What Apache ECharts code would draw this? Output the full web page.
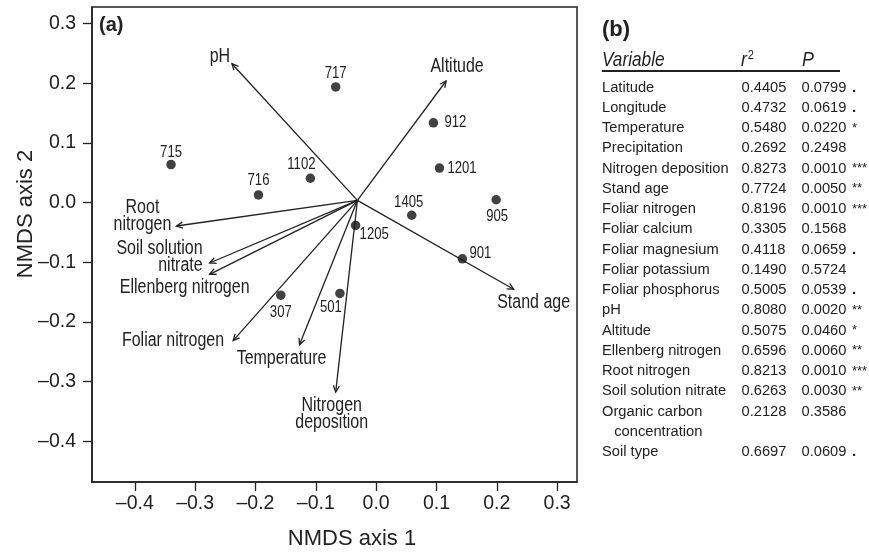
<!DOCTYPE html>
<html><head><meta charset="utf-8">
<script src="https://cdn.jsdelivr.net/npm/echarts@6/dist/echarts.min.js"></script>
<style>html,body{margin:0;padding:0;background:#fff}#c{width:869px;height:553px}</style>
</head><body><div id="c"></div>
<script>
// ---- data ----
const siteNames = ['717','912','1201','715','1102','716','905','1405','1205','901','307','501'];
const siteX = [-0.067,0.095,0.105,-0.340,-0.109,-0.195,0.199,0.059,-0.034,0.143,-0.158,-0.060];
const siteY = [0.194,0.134,0.058,0.064,0.041,0.013,0.005,-0.021,-0.038,-0.094,-0.155,-0.152];
const vectorNames = ['pH','Altitude','Root\nnitrogen','Soil solution\nnitrate','Ellenberg nitrogen','Foliar nitrogen','Temperature','Nitrogen\ndeposition','Stand age'];
const vectorX = [-0.239,0.116,-0.331,-0.276,-0.276,-0.237,-0.127,-0.067,0.228];
const vectorY = [0.233,0.204,-0.039,-0.101,-0.120,-0.231,-0.238,-0.317,-0.145];
const vectorOrigin = [-0.031, 0.004];
const axisTicks = [-0.4,-0.3,-0.2,-0.1,0,0.1,0.2,0.3];
const tableVars = ['Latitude','Longitude','Temperature','Precipitation','Nitrogen deposition','Stand age','Foliar nitrogen','Foliar calcium','Foliar magnesium','Foliar potassium','Foliar phosphorus','pH','Altitude','Ellenberg nitrogen','Root nitrogen','Soil solution nitrate','Organic carbon\n   concentration','Soil type'];
const tableR2 = ['0.4405','0.4732','0.5480','0.2692','0.8273','0.7724','0.8196','0.3305','0.4118','0.1490','0.5005','0.8080','0.5075','0.6596','0.8213','0.6263','0.2128','0.6697'];
const tableP = ['0.0799','0.0619','0.0220','0.2498','0.0010','0.0050','0.0010','0.1568','0.0659','0.5724','0.0539','0.0020','0.0460','0.0060','0.0010','0.0030','0.3586','0.0609'];
const tableSig = ['.','.','*','','***','**','***','','.','','.','**','*','**','***','**','','.'];

// ---- label placement (style only) ----
const siteLabelPos = {'717':['center',0,-13],'912':['left',11,0],'1201':['left',8,0],'715':['center',0,-12],'1102':['center',-9,-14],'716':['center',0,-14],'905':['center',1,17],'1405':['center',-3,-13],'1205':['left',4,9],'901':['left',7,-5],'307':['center',0,17],'501':['center',-9,14]};
const vectorLabelPos = {'pH':['center',-12,-7],'Altitude':['center',11,-14],'Root\nnitrogen':['center',-34,-10],'Soil solution\nnitrate':['right',-7,-6],'Ellenberg nitrogen':['center',-25,13],'Foliar nitrogen':['right',-9,0],'Temperature':['center',-18,14],'Nitrogen\ndeposition':['center',-4,22],'Stand age':['center',20,13]};

const SANS = "'Liberation Sans',Arial,Helvetica,sans-serif";
const INK = '#222';
const NARROW_SCALE = 0.82;

const fmt = v => (v < -1e-9 ? '\u2013' : '') + Math.abs(v).toFixed(1);

const arrowData = vectorNames.map((n,i) => [vectorOrigin[0], vectorOrigin[1], vectorX[i], vectorY[i]]);

function textSeries(names, xs, ys, pos, fontSize, lineHeight){
  return {type:'custom', coordinateSystem:'cartesian2d', silent:true, z:5,
    data:names.map((n,i) => [xs[i], ys[i]]), encode:{x:0, y:1},
    renderItem:function(params, api){
      const n = names[params.dataIndex];
      const p = api.coord([api.value(0), api.value(1)]);
      const s = pos[n];
      return {type:'text', x:p[0]+s[1], y:p[1]+s[2], scaleX:NARROW_SCALE,
        style:{text:n, font:fontSize+'px '+SANS, fill:INK, align:s[0], verticalAlign:'middle', lineHeight:lineHeight}};
    }};
}

// ---- table graphics ----
const g = [];
g.push({type:'text', left:99, top:15, style:{text:'(a)', font:'bold 20px '+SANS, fill:INK}});
g.push({type:'text', x:602, y:30, style:{text:'(b)', font:'bold 22px '+SANS, fill:INK, verticalAlign:'middle'}});
g.push({type:'text', x:602, y:60, scaleX:0.82, style:{text:'Variable', font:'italic 21px '+SANS, fill:INK, verticalAlign:'middle'}});
g.push({type:'text', x:741, y:60, scaleX:0.85, style:{text:'{i|r}{s|2}', verticalAlign:'middle', rich:{i:{font:'italic 21px '+SANS, fill:INK}, s:{font:'13px '+SANS, fill:INK, verticalAlign:'top', padding:[0,0,10,1]}}}});
g.push({type:'text', x:802, y:60, scaleX:0.85, style:{text:'P', font:'italic 21px '+SANS, fill:INK, verticalAlign:'middle'}});
g.push({type:'line', shape:{x1:602, y1:71, x2:840, y2:71}, style:{stroke:INK, lineWidth:2}});
let row = 0;
const rowY = k => 87.5 + 20.25*k;
tableVars.forEach((v,i) => {
  const y = rowY(row);
  v.split('\n').forEach((line,j) => {
    g.push({type:'text', x:602, y:rowY(row+j), style:{text:line, font:'14.7px '+SANS, fill:INK, verticalAlign:'middle'}});
  });
  g.push({type:'text', x:741.5, y:y, style:{text:tableR2[i], font:'14.7px '+SANS, fill:INK, verticalAlign:'middle'}});
  g.push({type:'text', x:801.5, y:y, style:{text:tableP[i], font:'14.7px '+SANS, fill:INK, verticalAlign:'middle'}});
  if (tableSig[i]) g.push({type:'text', x:852, y:y, style:{text:tableSig[i], font:(tableSig[i]==='.'?'bold 15px ':'13px ')+SANS, fill:INK, verticalAlign:'middle'}});
  row += v.split('\n').length;
});
// axis titles
g.push({type:'text', x:352, y:539, style:{text:'NMDS axis 1', font:'22px '+SANS, fill:INK, align:'center', verticalAlign:'middle'}});
g.push({type:'text', x:26, y:214, rotation:Math.PI/2, style:{text:'NMDS axis 2', font:'22px '+SANS, fill:INK, align:'center', verticalAlign:'middle'}});

const axisCommon = {
  type:'value', min:-0.471, max:0.333,
  splitLine:{show:false},
  axisLine:{show:true, onZero:false, lineStyle:{color:INK, width:1.5}},
  axisTick:{show:true, inside:false, customValues:axisTicks, length:9, lineStyle:{color:INK, width:1.3}},
  axisLabel:{customValues:axisTicks, formatter:fmt, color:INK, fontSize:19.5, fontFamily:SANS}
};

const chart = echarts.init(document.getElementById('c'), null, {renderer:'canvas'});
chart.setOption({
  animation:false,
  backgroundColor:'#fff',
  grid:{left:92, top:7, width:485, height:475, show:true, borderColor:INK, borderWidth:1.5, containLabel:false},
  xAxis:Object.assign({}, axisCommon, {axisLabel:Object.assign({}, axisCommon.axisLabel, {margin:12})}),
  yAxis:Object.assign({}, axisCommon, {min:-0.468, max:0.328, axisLabel:Object.assign({}, axisCommon.axisLabel, {margin:16})}),
  graphic:g,
  series:[
    {type:'custom', coordinateSystem:'cartesian2d', data:arrowData, encode:{x:[0,2], y:[1,3]}, silent:true,
      renderItem:function(params, api){
        const p0 = api.coord([api.value(0), api.value(1)]);
        const p1 = api.coord([api.value(2), api.value(3)]);
        const ang = Math.atan2(p1[1]-p0[1], p1[0]-p0[0]);
        const L = 7, a = 0.45;
        const h1 = [p1[0]-L*Math.cos(ang-a), p1[1]-L*Math.sin(ang-a)];
        const h2 = [p1[0]-L*Math.cos(ang+a), p1[1]-L*Math.sin(ang+a)];
        return {type:'group', children:[
          {type:'line', shape:{x1:p0[0], y1:p0[1], x2:p1[0], y2:p1[1]}, style:{stroke:INK, lineWidth:1.3}},
          {type:'polyline', shape:{points:[h1,p1,h2]}, style:{stroke:INK, lineWidth:1.3, fill:null}}
        ]};
      }},
    {type:'scatter', data:siteX.map((x,i) => [x, siteY[i]]), symbol:'circle', symbolSize:9.5, itemStyle:{color:'#111'}, silent:true},
    textSeries(siteNames, siteX, siteY, siteLabelPos, 16, 18),
    textSeries(vectorNames, vectorX, vectorY, vectorLabelPos, 19.5, 16.5)
  ]
});
</script></body></html>
